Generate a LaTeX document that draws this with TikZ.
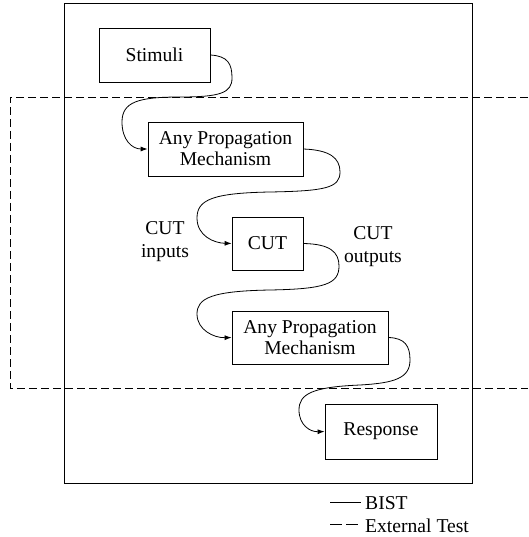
\documentclass[tikz,border=0pt]{standalone}
\usepackage{fontspec}
\setmainfont{Liberation Serif}
\usetikzlibrary{arrows.meta}
\begin{document}
\begin{tikzpicture}[x=1pt,y=-1pt,
  font=\fontsize{19.6}{21}\selectfont,
  blk/.style={draw,line width=0.8pt,inner sep=0pt,align=center},
  lbl/.style={inner sep=0pt,align=center,font=\fontsize{19.6}{23}\selectfont},
  arr/.style={line width=0.8pt,-{Latex[length=7pt,width=5pt]}},
  ext/.style={line width=0.8pt,dash pattern=on 8pt off 4pt}]
\useasboundingbox (0,0) rectangle (528,537);
% BIST box
\draw[line width=0.9pt] (64,3) rectangle (472,483);
% External test region (open on the right)
\draw[ext] (528,97) -- (10,97) -- (10,388) -- (528,388);
% blocks
\node[blk,minimum width=111pt,minimum height=54pt] (stim) at (154.5,55) {Stimuli};
\node[blk,minimum width=155pt,minimum height=54pt] (apm1) at (225.5,149) {Any Propagation\\Mechanism};
\node[blk,minimum width=71pt,minimum height=53pt] (cut) at (267.5,243.5) {CUT};
\node[blk,minimum width=156pt,minimum height=53pt] (apm2) at (310,337.5) {Any Propagation\\Mechanism};
\node[blk,minimum width=112pt,minimum height=55pt] (resp) at (381,431.5) {Response};
% labels
\node[lbl] (inl) at (165,242) {CUT\\inputs};
\node[lbl] (outl) at (373,247) {CUT\\outputs};
% connectors
\draw[arr] (stim.east) .. controls (228,56) and (232,64) .. (232,78)
  .. controls (232,93) and (220,97) .. (180,97)
  .. controls (138,97) and (122,102) .. (122,122)
  .. controls (122,140) and (132,149) .. (apm1.west);
\draw[arr] (apm1.east) .. controls (330,150) and (340,158) .. (340,172)
  .. controls (340,188) and (325,191) .. (270,192)
  .. controls (212,193) and (197,200) .. (197,218)
  .. controls (197,236) and (214,243) .. (cut.west);
\draw[arr] (cut.east) .. controls (330,244) and (339,252) .. (339,266)
  .. controls (339,284) and (325,289) .. (270,290)
  .. controls (212,291) and (197,298) .. (197,314)
  .. controls (197,330) and (214,338) .. (apm2.west);
\draw[arr] (apm2.east) .. controls (405,338) and (410,346) .. (410,360)
  .. controls (410,378) and (395,383) .. (360,385)
  .. controls (312,387) and (299,394) .. (299,410)
  .. controls (299,425) and (310,432) .. (resp.west);
% legend
\coordinate (l1a) at (330,502);
\coordinate (l1b) at (361,502);
\coordinate (l2a) at (330,524);
\coordinate (l2b) at (361,524);
\draw[line width=0.8pt] (l1a) -- (l1b);
\draw[line width=0.8pt,dash pattern=on 12pt off 4pt] (l2a) -- (l2b);
\node[inner sep=0pt,anchor=base west] (lg1) at (365,509) {BIST};
\node[inner sep=0pt,anchor=base west] (lg2) at (365,532) {External Test};
\end{tikzpicture}
\end{document}
